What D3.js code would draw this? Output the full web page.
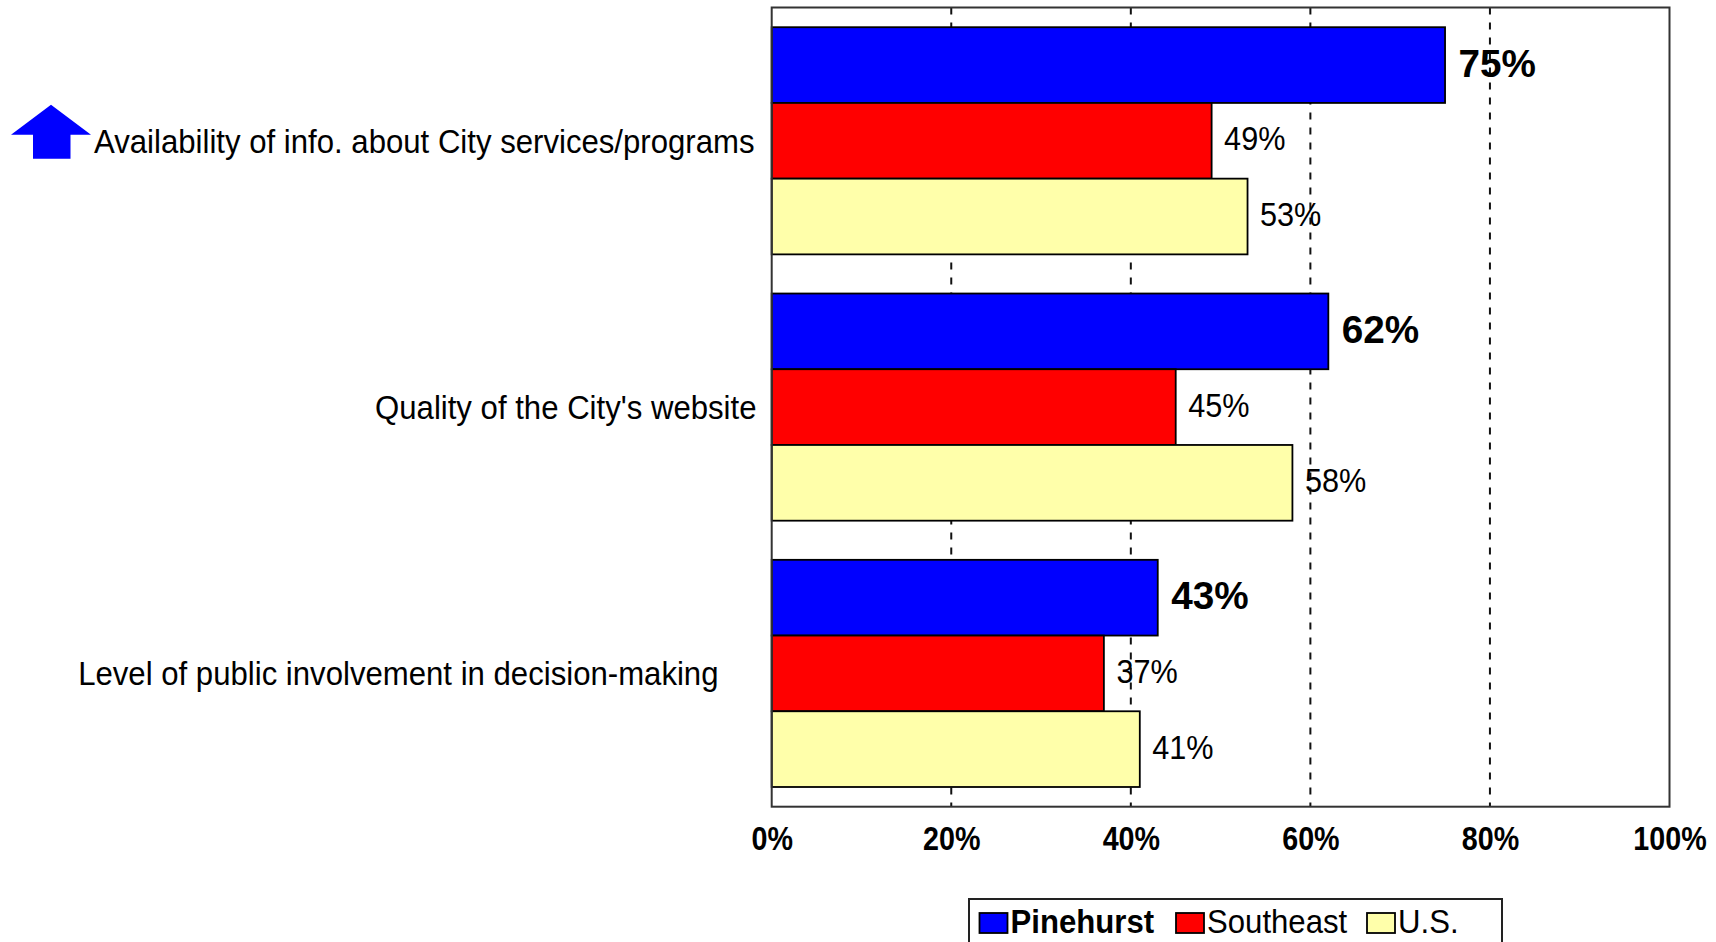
<!DOCTYPE html>
<html>
<head>
<meta charset="utf-8">
<script src="https://cdn.jsdelivr.net/npm/d3@7"></script>
<style>
  html, body { margin: 0; padding: 0; background: #fff; }
  svg { display: block; }
  text { font-family: "Liberation Sans", Arial, sans-serif; fill: #000; }
</style>
</head>
<body>
<svg id="chart" width="1716" height="942"></svg>
<script>
// ---- data ----
const categories = [
  "Availability of info. about City services/programs",
  "Quality of the City's website",
  "Level of public involvement in decision-making"
];
const seriesNames = ["Pinehurst", "Southeast", "U.S."];
const pinehurst = [75, 62, 43];
const southeast = [49, 45, 37];
const us = [53, 58, 41];
const trend = ["up", null, null];
const tickValues = [0, 20, 40, 60, 80, 100];
const tickLabels = ["0%", "20%", "40%", "60%", "80%", "100%"];
const seriesColors = ["#0000FF", "#FF0000", "#FFFFAA"];

// ---- layout ----
const svg = d3.select("#chart");
const plot = { left: 771.7, right: 1669.5, top: 7.5, bottom: 806.7 };

const x = d3.scaleLinear().domain([0, 100]).range([plot.left, plot.right]);
const y0 = d3.scaleBand().domain(categories).range([plot.top, plot.bottom])
  .paddingInner(0.147).paddingOuter(0.074);
const y1 = d3.scaleBand().domain(seriesNames).range([0, y0.bandwidth()]).padding(0);

const seriesValues = [pinehurst, southeast, us];
const rows = [];
categories.forEach((c, i) => {
  seriesNames.forEach((s, j) => {
    rows.push({ cat: c, ci: i, series: s, si: j, value: seriesValues[j][i] });
  });
});

// gridlines (behind bars)
svg.append("g").selectAll("line")
  .data(tickValues.filter(t => t > 0 && t < 100))
  .join("line")
  .attr("x1", d => x(d)).attr("x2", d => x(d))
  .attr("y1", plot.top).attr("y2", plot.bottom)
  .attr("stroke", "#111").attr("stroke-width", 2)
  .attr("stroke-dasharray", "7,8");

// bars
svg.append("g").selectAll("rect")
  .data(rows)
  .join("rect")
  .attr("x", x(0))
  .attr("y", d => y0(d.cat) + y1(d.series))
  .attr("width", d => x(d.value) - x(0))
  .attr("height", y1.bandwidth())
  .attr("fill", d => seriesColors[d.si])
  .attr("stroke", "#000").attr("stroke-width", 1.8);

// value labels
svg.append("g").selectAll("text")
  .data(rows)
  .join("text")
  .attr("transform", d => {
    const cx = x(d.value) + (d.si === 0 ? 13.5 : 12.5);
    const cy = y0(d.cat) + y1(d.series) + y1.bandwidth() / 2 + (d.si === 0 ? 11.5 : 9.5);
    const sx = d.si === 0 ? 1 : 0.94;
    return `translate(${cx},${cy}) scale(${sx},1)`;
  })
  .attr("font-size", d => d.si === 0 ? 38.7 : 32.6)
  .attr("font-weight", d => d.si === 0 ? "bold" : "normal")
  .text(d => d.value + "%");

// plot frame
svg.append("rect")
  .attr("x", plot.left).attr("y", plot.top)
  .attr("width", plot.right - plot.left).attr("height", plot.bottom - plot.top)
  .attr("fill", "none").attr("stroke", "#333").attr("stroke-width", 2);

// x axis labels
const xAxis = d3.axisBottom(x).tickValues(tickValues)
  .tickFormat((d, i) => tickLabels[i]).tickSize(0).tickPadding(0);
const ax = svg.append("g").attr("transform", `translate(0,${plot.bottom})`).call(xAxis);
ax.select(".domain").remove();
ax.selectAll(".tick text")
  .attr("y", 0).attr("dy", 0)
  .attr("transform", "translate(0,43.3) scale(0.88,1)")
  .attr("font-size", 32.6)
  .attr("font-weight", "bold")
  .attr("font-family", "Liberation Sans, Arial, sans-serif")
  .attr("fill", "#000");

// category labels
const labelDx = [-2, 0, -38];
svg.append("g").selectAll("text")
  .data(categories)
  .join("text")
  .attr("transform", (d, i) => {
    const cy = y0(d) + y0.bandwidth() / 2 + 12;
    return `translate(${756.5 + labelDx[i]},${cy}) scale(0.93,1)`;
  })
  .attr("text-anchor", "end")
  .attr("font-size", 33.5)
  .text(d => d);

// trend arrow
svg.append("g").selectAll("path")
  .data(categories.map((c, i) => ({ c, t: trend[i] })).filter(d => d.t === "up"))
  .join("path")
  .attr("transform", d => `translate(51,${y0(d.c) + y0.bandwidth() / 2})`)
  .attr("d", "M0,-36 L40,-6 L19.5,-6 L19.5,18 L-18,18 L-18,-6 L-40,-6 Z")
  .attr("fill", "#0000FF");

// legend
const lg = svg.append("g");
lg.append("rect")
  .attr("x", 969).attr("y", 899).attr("width", 533).attr("height", 80)
  .attr("fill", "#fff").attr("stroke", "#222").attr("stroke-width", 2);
const legendX = [979.5, 1176, 1367];
const legendItems = lg.selectAll("g.item")
  .data(seriesNames)
  .join("g")
  .attr("class", "item")
  .attr("transform", (d, i) => `translate(${legendX[i]},0)`);
legendItems.append("rect")
  .attr("x", 0).attr("y", 913).attr("width", 28).attr("height", 20)
  .attr("fill", (d, i) => seriesColors[i])
  .attr("stroke", "#000").attr("stroke-width", 1.8);
legendItems.append("text")
  .attr("transform", "translate(31,933) scale(0.93,1)")
  .attr("font-size", 33.5)
  .attr("font-weight", (d, i) => i === 0 ? "bold" : "normal")
  .text(d => d);
</script>
</body>
</html>
